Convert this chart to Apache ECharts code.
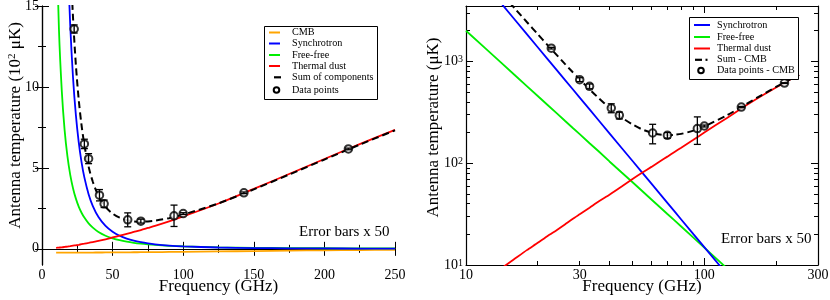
<!DOCTYPE html>
<html><head><meta charset="utf-8">
<script src="https://cdn.jsdelivr.net/npm/echarts@6/dist/echarts.min.js"></script>
<style>html,body{margin:0;padding:0;background:#fff}#c{width:830px;height:300px}</style>
</head><body><div id="c"></div>
<script>
// ---------- model frequencies (GHz) ----------
const freqModel = [10,12,14,16,18,20,22,24,26,28,30,33,36,40,45,50,55,60,65,70,75,80,90,100,125,150,175,200,225,250];
// ---------- left panel, units of 10^2 uK ----------
const cmbL  = [-0.235,-0.235,-0.235,-0.235,-0.235,-0.235,-0.234,-0.234,-0.233,-0.233,-0.232,-0.231,-0.23,-0.228,-0.225,-0.222,-0.219,-0.216,-0.213,-0.21,-0.206,-0.202,-0.195,-0.187,-0.162,-0.137,-0.112,-0.092,-0.075,-0.06];
const syncL = [96.63,57.9,37.54,25.79,18.53,13.78,10.54,8.255,6.593,5.354,4.41,3.374,2.642,1.965,1.411,1.05,0.803,0.629,0.502,0.408,0.336,0.28,0.201,0.15,0.08,0.048,0.031,0.0213,0.0153,0.0114];
const ffL   = [20,13.56,9.77,7.35,5.72,4.57,3.73,3.10,2.61,2.23,1.93,1.57,1.31,1.04,0.81,0.65,0.53,0.44,0.371,0.317,0.274,0.239,0.186,0.148,0.092,0.063,0.045,0.034,0.026,0.021];
const dustL = [0.058,0.075,0.092,0.115,0.14,0.165,0.193,0.22,0.25,0.283,0.315,0.365,0.42,0.49,0.59,0.70,0.81,0.92,1.04,1.16,1.29,1.42,1.70,2.00,2.80,3.70,4.62,5.55,6.47,7.35];
const sumL  = [116.45,71.31,47.17,33.03,24.16,18.29,14.23,11.35,9.22,7.64,6.43,5.08,4.14,3.27,2.585,2.178,1.921,1.774,1.697,1.675,1.694,1.738,1.892,2.111,2.808,3.673,4.588,5.513,6.435,7.32];
// ---------- right panel, uK (CMB removed) ----------
const syncR = [9663,5790,3754,2579,1853,1378,1054,825.5,659.3,535.4,441,337.4,264.2,196.5,141.1,105,80.3,62.9,50.2,40.8,33.6,28.0,20.1,15.0,8.0,4.8,3.1,2.13,1.53,1.14];
const ffR   = [2000,1356,977,735,572,457,373,310,261,223,193,157,131,104,81,65,53,44,37.1,31.7,27.4,23.9,18.6,14.8,9.2,6.3,4.5,3.4,2.6,2.1];
const dustR = [5.8,7.5,9.2,11.5,14,16.5,19.3,22,25,28.3,31.5,36.5,42,49,59,70,81,92,104,116,129,142,170,200,280,370,462,555,647,735];
const sumR  = [11669,7154,4740,3326,2439,1852,1446,1158,945,787,666,531,437,350,281,240,214,199,191,188.5,190,194,208.7,229.8,297,381,470,560.5,651,738];
// ---------- data points ----------
const freqData = [22.8,30,33,40.7,44,60.7,70,93.5,100,143,217];
const dataL = [13.58,6.48,5.57,3.31,2.78,1.79,1.71,2.04,2.18,3.46,6.17];
const errL  = [0.25,0.29,0.31,0.35,0.23,0.43,0.12,0.66,0.05,0.05,0.05];
const dataR = [1349,662,569,348,295,198,188,219,232,356,612];
const errR  = [25,29,31,35,23,43,12,66,5,5,5];
// ---------- ticks ----------
const xTicksL = [0,50,100,150,200,250];
const xMinorL = [25,75,125,175,225];
const yTicksL = [0,5,10,15];
const yMinorL = [2.5,7.5,12.5];
const xTicksR = [10,100];
const xMinorR = [20,30,40,50,60,70,80,90,200,300];
const xLabelsR = [10,30,100,300];
const yTicksR = [10,100,1000];
const yExpR = ['1','2','3'];
const yMinorR = [20,30,40,50,60,70,80,90,200,300,400,500,600,700,800,900,2000,3000];

const FONT = 'Liberation Serif';
const C = {cmb:'#ffa500', sync:'#0000ff', ff:'#00ee00', dust:'#ff0000', sum:'#000000'};
const al = {color:'#000', width:1.2};
const lab = {fontFamily:FONT, fontSize:14, color:'#000'};

function mkAxis(o) {
  const a = {
    type:o.type, gridIndex:o.grid, min:o.min, max:o.max, position:o.pos,
    axisLine:{show:!!o.line, lineStyle:al},
    axisTick:{show:true, inside:true, length:o.len, customValues:o.ticks, lineStyle:{color:'#000', width:1}},
    axisLabel:{show:false}, splitLine:{show:false}, minorTick:{show:false}
  };
  if (o.type === 'log') a.logBase = 10;
  if (o.labels) a.axisLabel = Object.assign({show:true, customValues:o.labels, margin:o.margin || 3}, lab, o.labelExtra || {});
  if (o.name) {
    a.name = o.name; a.nameLocation = 'middle'; a.nameGap = o.nameGap; a.nameMoveOverlap = false;
    a.nameTextStyle = Object.assign({fontFamily:FONT, fontSize:17, color:'#000'}, o.nameStyle || {});
  }
  return a;
}

const xAxis = [
  mkAxis({type:'value', grid:0, min:0, max:250, pos:'bottom', line:1, len:7, ticks:xTicksL, labels:xTicksL, name:'Frequency (GHz)', nameGap:13}),
  mkAxis({type:'value', grid:0, min:0, max:250, pos:'bottom', len:4, ticks:xMinorL}),
  mkAxis({type:'value', grid:0, min:0, max:250, pos:'top', line:1, len:7, ticks:xTicksL}),
  mkAxis({type:'value', grid:0, min:0, max:250, pos:'top', len:4, ticks:xMinorL}),
  mkAxis({type:'log', grid:1, min:10, max:300, pos:'bottom', line:1, len:7, ticks:xTicksR, labels:xLabelsR, name:'Frequency (GHz)', nameGap:13}),
  mkAxis({type:'log', grid:1, min:10, max:300, pos:'bottom', len:4, ticks:xMinorR}),
  mkAxis({type:'log', grid:1, min:10, max:300, pos:'top', line:1, len:7, ticks:xTicksR}),
  mkAxis({type:'log', grid:1, min:10, max:300, pos:'top', len:4, ticks:xMinorR})
];
const yAxis = [
  mkAxis({type:'value', grid:0, min:-1, max:15, pos:'left', line:1, len:7, ticks:yTicksL, labels:yTicksL,
    name:'Antenna temperature (10{s|2} μK)', nameGap:18,
    nameStyle:{padding:[0,0,0,20], rich:{s:{fontFamily:FONT, fontSize:11, color:'#000', verticalAlign:'top'}}}}),
  mkAxis({type:'value', grid:0, min:-1, max:15, pos:'left', len:4, ticks:yMinorL}),
  mkAxis({type:'value', grid:0, min:-1, max:15, pos:'right', line:1, len:7, ticks:yTicksL}),
  mkAxis({type:'value', grid:0, min:-1, max:15, pos:'right', len:4, ticks:yMinorL}),
  mkAxis({type:'log', grid:1, min:10, max:3500, pos:'left', line:1, len:7, ticks:yTicksR, labels:yTicksR,
    labelExtra:{formatter:function(v){const i = yTicksR.findIndex(t => Math.abs(t - v) / t < 1e-6); return '{n|10}{s|' + (i >= 0 ? yExpR[i] : '') + '}';},
      rich:{n:{fontFamily:FONT, fontSize:14, color:'#000'}, s:{fontFamily:FONT, fontSize:10, color:'#000', verticalAlign:'top'}}},
    name:'Antenna temperature (μK)', nameGap:24, nameStyle:{padding:[0,0,0,16]}}),
  mkAxis({type:'log', grid:1, min:10, max:3500, pos:'left', len:4, ticks:yMinorR}),
  mkAxis({type:'log', grid:1, min:10, max:3500, pos:'right', line:1, len:7, ticks:yTicksR}),
  mkAxis({type:'log', grid:1, min:10, max:3500, pos:'right', len:4, ticks:yMinorR})
];

function pairs(xs, ys) { return xs.map((x, i) => [x, ys[i]]); }
function triples(xs, ys, es) { return xs.map((x, i) => [x, ys[i], es[i]]); }
function lineSeries(name, ys, color, xi, yi, dashed, smooth) {
  return {type:'line', name, xAxisIndex:xi, yAxisIndex:yi, data:pairs(freqModel, ys), showSymbol:false, symbol:'none',
    smooth:smooth, clip:true, lineStyle:{color, width:dashed ? 2 : 1.8, type:dashed ? [7,4] : 'solid'}, z:dashed ? 4 : 3, silent:true};
}
function errRender(params, api) {
  const x = api.value(0), y = api.value(1), e = api.value(2);
  const t = api.coord([x, y + e]), b = api.coord([x, y - e]);
  const hw = 3.5, st = {stroke:'#000', lineWidth:1.3, fill:null};
  return {type:'group', children:[
    {type:'line', shape:{x1:t[0], y1:t[1], x2:b[0], y2:b[1]}, style:st},
    {type:'line', shape:{x1:t[0]-hw, y1:t[1], x2:t[0]+hw, y2:t[1]}, style:st},
    {type:'line', shape:{x1:b[0]-hw, y1:b[1], x2:b[0]+hw, y2:b[1]}, style:st}
  ]};
}
function errSeries(ys, es, xi, yi) {
  return {type:'custom', xAxisIndex:xi, yAxisIndex:yi, data:triples(freqData, ys, es), renderItem:errRender, encode:{x:0, y:1}, z:7, silent:true};
}
function ptSeries(name, ys, xi, yi) {
  return {type:'scatter', name, xAxisIndex:xi, yAxisIndex:yi, data:pairs(freqData, ys), symbol:'circle', symbolSize:7.5,
    itemStyle:{color:'#fff', borderColor:'#000', borderWidth:2}, z:6, silent:true};
}

const series = [
  lineSeries('CMB', cmbL, C.cmb, 0, 0, false, 0.3),
  lineSeries('Free-free', ffL, C.ff, 0, 0, false, 0.3),
  lineSeries('Synchrotron', syncL, C.sync, 0, 0, false, 0.3),
  lineSeries('Thermal dust', dustL, C.dust, 0, 0, false, 0.3),
  lineSeries('Sum of components', sumL, C.sum, 0, 0, true, 0.3),
  errSeries(dataL, errL, 0, 0),
  ptSeries('Data points', dataL, 0, 0),
  lineSeries('Free-free R', ffR, C.ff, 4, 4, false, 0),
  lineSeries('Synchrotron R', syncR, C.sync, 4, 4, false, 0),
  lineSeries('Thermal dust R', dustR, C.dust, 4, 4, false, 0.2),
  lineSeries('Sum - CMB', sumR, C.sum, 4, 4, true, 0.2),
  errSeries(dataR, errR, 4, 4),
  ptSeries('Data points - CMB', dataR, 4, 4)
];

// ---------- legends (drawn as graphics) ----------
const legL = {names:['CMB','Synchrotron','Free-free','Thermal dust','Sum of components','Data points'],
  kinds:['cmb','sync','ff','dust','sum','pt'], ys:[32.5,43.5,55,66,77.3,90]};
const legR = {names:['Synchrotron','Free-free','Thermal dust','Sum - CMB','Data points - CMB'],
  kinds:['sync','ff','dust','sumdot','pt'], ys:[25,37,48.5,59.8,70.5]};
function legendGraphics(leg, box, lx1, lx2, tx, ptx) {
  const g = [{type:'rect', shape:box, style:{fill:'#fff', stroke:'#000', lineWidth:1}, z:100}];
  leg.names.forEach((n, i) => {
    const y = leg.ys[i], k = leg.kinds[i];
    if (k === 'pt') {
      g.push({type:'circle', shape:{cx:ptx, cy:y, r:2.8}, style:{fill:'#fff', stroke:'#000', lineWidth:2}, z:101});
    } else if (k === 'sum') {
      g.push({type:'line', shape:{x1:lx1 + 5, y1:y, x2:lx2 + 1, y2:y}, style:{stroke:'#000', lineWidth:2.2}, z:101});
    } else if (k === 'sumdot') {
      g.push({type:'line', shape:{x1:lx1 + 1, y1:y, x2:lx1 + 8, y2:y}, style:{stroke:'#000', lineWidth:2.2}, z:101});
      g.push({type:'line', shape:{x1:lx1 + 11.5, y1:y, x2:lx1 + 13.5, y2:y}, style:{stroke:'#000', lineWidth:2.2}, z:101});
    } else {
      g.push({type:'line', shape:{x1:lx1, y1:y, x2:lx2, y2:y}, style:{stroke:C[k], lineWidth:2}, z:101});
    }
    g.push({type:'text', x:tx, y:y, style:{text:n, font:'10.2px "Liberation Serif"', fill:'#000', verticalAlign:'middle', align:'left'}, z:101});
  });
  return g;
}
const notes = [
  {type:'text', x:299, y:232, style:{text:'Error bars x 50', font:'15px "Liberation Serif"', fill:'#000', verticalAlign:'middle', align:'left'}, z:101},
  {type:'text', x:721, y:239, style:{text:'Error bars x 50', font:'15px "Liberation Serif"', fill:'#000', verticalAlign:'middle', align:'left'}, z:101}
];
const graphic = [].concat(
  legendGraphics(legL, {x:264.5, y:26.5, width:113, height:73}, 269, 280, 292, 276.5),
  legendGraphics(legR, {x:689.5, y:17.5, width:109, height:62}, 694, 710, 717, 701),
  notes
);

const chart = echarts.init(document.getElementById('c'), null, {renderer:'canvas'});
chart.setOption({
  animation:false,
  backgroundColor:'#fff',
  grid:[{left:42, top:6, width:353, height:259, containLabel:false, outerBoundsMode:'none'},
        {left:466, top:6, width:352, height:259, containLabel:false, outerBoundsMode:'none'}],
  xAxis, yAxis, series, graphic
});
</script>
</body></html>
